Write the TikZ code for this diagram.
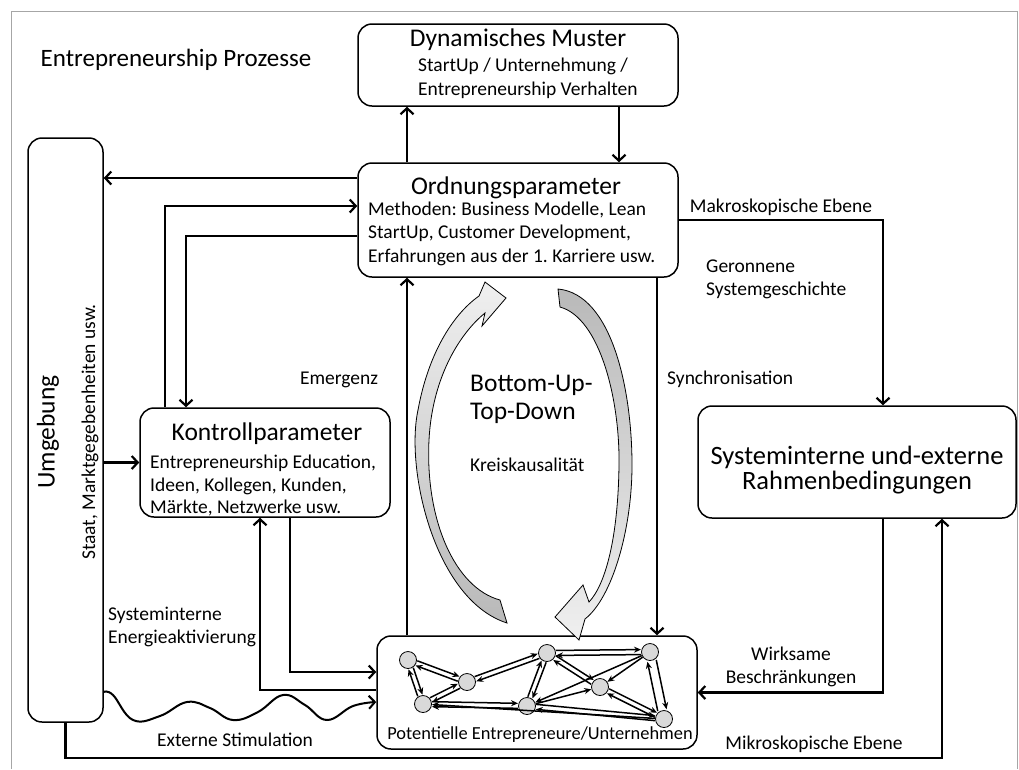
\documentclass[tikz,border=0pt]{standalone}
\usepackage{fontspec}
\setmainfont{Carlito}
\usetikzlibrary{arrows.meta,calc}
\frenchspacing
\newcommand\bigtxt{\fontsize{25.5}{28}\selectfont}
\newcommand\medtxt{\fontsize{19.5}{23.5}\selectfont}
\newcommand\smtxt{\fontsize{19.5}{23}\selectfont}
\newcommand\twoway[3][2.5pt]{%
  \draw[link] ($(#2)!#1!90:(#3)$) -- ($(#3)!#1!-90:(#2)$);
  \draw[link] ($(#3)!#1!90:(#2)$) -- ($(#2)!#1!-90:(#3)$);}
\begin{document}
\begin{tikzpicture}[x=1pt,y=-1pt,
  box/.style={draw,rounded corners=14pt,line width=1.5pt},
  arr/.style={-{Straight Barb[length=6pt,width=13pt]},line width=2.2pt},
  link/.style={-{Stealth[length=7pt,width=6pt]},line width=1.5pt,shorten <=9pt,shorten >=9pt},
  agent/.style={circle,draw,fill=gray!30,minimum size=17pt,inner sep=0pt,line width=0.8pt},
  txt/.style={inner sep=0pt}]
\useasboundingbox (0,0) rectangle (1019,769);
\draw[gray!70,line width=1pt] (11,769) -- (11,11) -- (1017,11) -- (1017,769);

\node[txt,font=\fontsize{25}{28}\selectfont] (title) at (176,60) {Entrepreneurship Prozesse};

\node[box,minimum width=320pt,minimum height=82pt] (dyn) at (518,65) {};
\node[txt,font=\bigtxt] (dynhead) at (518,40) {Dynamisches Muster};
\node[txt,anchor=west,align=left,font=\medtxt] (dyntext) at (418,78.5) {StartUp / Unternehmung /\\ Entrepreneurship Verhalten};

\node[box,minimum width=320pt,minimum height=114pt] (ord) at (518,220) {};
\node[txt,font=\bigtxt] (ordhead) at (516,188) {Ordnungsparameter};
\node[txt,anchor=west,align=left,font=\medtxt] (ordtext) at (368,233.5) {Methoden: Business Modelle, Lean\\ StartUp, Customer Development,\\ Erfahrungen aus der 1. Karriere usw.};

\node[box,minimum width=75pt,minimum height=584pt] (umg) at (65.5,430) {};
\node[txt,rotate=90,font=\bigtxt] (umghead) at (48,432) {Umgebung};
\node[txt,rotate=90,font=\medtxt] (umgtext) at (90,432) {Staat, Marktgegebenheiten usw.};

\node[box,minimum width=250pt,minimum height=109pt] (kon) at (265,462.5) {};
\node[txt,font=\bigtxt] (konhead) at (267,434) {Kontrollparameter};
\node[txt,anchor=west,align=left,font=\fontsize{19.5}{22.5}\selectfont] (kontext) at (150,485.5) {Entrepreneurship Education,\\ Ideen, Kollegen, Kunden,\\ Märkte, Netzwerke usw.};

\node[box,minimum width=318pt,minimum height=112pt] (rah) at (857,462) {};
\node[txt,align=center,font=\fontsize{26.5}{25}\selectfont] (rahtext) at (857,470) {Systeminterne und-externe\\ Rahmenbedingungen};

\node[box,minimum width=320pt,minimum height=113pt] (net) at (537,692.5) {};
\node[txt,font=\fontsize{18.4}{22}\selectfont] (nettext) at (540,735) {Potentielle Entrepreneure/Unternehmen};

\node[txt,anchor=west,align=left,font=\bigtxt] (butd) at (470,399) {Bottom-Up-\\ Top-Down};
\node[txt,anchor=west,font=\smtxt] (kreis) at (470,465) {Kreiskausalität};

\node[txt,font=\smtxt] (emerg) at (339,380) {Emergenz};
\node[txt,font=\smtxt] (makro) at (781,207) {Makroskopische Ebene};
\node[txt,anchor=west,align=left,font=\smtxt] (geronn) at (706,279.5) {Geronnene\\ Systemgeschichte};
\node[txt,anchor=west,font=\smtxt] (sync) at (667,379) {Synchronisation};
\node[txt,anchor=west,align=left,font=\smtxt] (energie) at (108,626.5) {Systeminterne\\ Energieaktivierung};
\node[txt,font=\smtxt] (extern) at (235,740) {Externe Stimulation};
\node[txt,align=center,font=\smtxt] (wirk) at (791,666.5) {Wirksame\\ Beschränkungen};
\node[txt,font=\smtxt] (mikro) at (814,744) {Mikroskopische Ebene};

\draw[arr] ([xshift=-111pt]ord.north) -- ([xshift=-111pt]dyn.south);
\draw[arr] ([xshift=101pt]dyn.south) -- ([xshift=101pt]ord.north);
\draw[arr] ([yshift=42pt]ord.west) -- ([yshift=42pt]ord.west -| umg.east);
\draw[arr] ([xshift=-100pt]kon.north) |- ([yshift=14pt]ord.west);
\draw[arr] ([yshift=-16pt]ord.west) -| ([xshift=-79pt]kon.north);
\draw[arr] (kon.west -| umg.east) -- (kon.west);
\draw[arr] ([xshift=-130pt]net.north) -- ([xshift=-111pt]ord.south);
\draw[arr] ([xshift=139pt]ord.south) -- ([xshift=120pt]net.north);
\draw[arr] (ord.east) -| ([xshift=26pt]rah.north);
\draw[arr] ([xshift=26pt]rah.south) |- (net.east);
\coordinate (bot) at (0,758);
\draw[arr] (umg.south) -- (umg.south |- bot) -| ([xshift=85pt]rah.south);
\draw[arr] ([yshift=2.5pt]net.west) -| ([xshift=-5pt]kon.south);
\draw[arr] ([xshift=25pt]kon.south) |- ([yshift=20.5pt]net.west);
\coordinate (wv0) at ([yshift=-262pt]umg.east);
\coordinate (wv1) at ([yshift=-9.5pt]net.west);
\draw[arr,line width=2pt] plot[smooth,tension=0.7] coordinates {(wv0) (113,695) (133,720) (160,716) (187,702) (210,708) (233,720) (258,712) (283,695) (305,705) (327,720) (353,706) (wv1)};

\draw[line width=0.8pt,top color=gray!12,bottom color=gray!55]
  (507,623) .. controls (435,600) and (405,470) .. (418,410)
  .. controls (428,355) and (452,315) .. (479,296)
  -- (485,282) -- (506,298) -- (482,326) -- (485,313)
  .. controls (458,335) and (432,380) .. (429,440)
  .. controls (425,520) and (455,588) .. (500,600) -- cycle;
\draw[line width=0.8pt,top color=gray!55,bottom color=gray!12]
  (558,289) -- (560,307)
  .. controls (600,318) and (620,400) .. (619,465)
  .. controls (618,540) and (605,585) .. (589,602)
  -- (583,585) -- (555,617) -- (579,640) -- (585,619)
  .. controls (612,598) and (632,530) .. (632,465)
  .. controls (632,390) and (612,294) .. (558,289) -- cycle;

\node[agent] (n1) at (408,660) {};
\node[agent] (n2) at (467,682) {};
\node[agent] (n3) at (423,704) {};
\node[agent] (n4) at (527,706) {};
\node[agent] (n5) at (547,653) {};
\node[agent] (n6) at (650,652) {};
\node[agent] (n7) at (600,687) {};
\node[agent] (n8) at (664,719) {};
\twoway{n1}{n2}
\twoway{n1}{n3}
\twoway{n3}{n2}
\twoway{n2}{n5}
\twoway{n3}{n4}
\twoway{n5}{n6}
\twoway{n5}{n4}
\twoway{n5}{n7}
\twoway{n7}{n8}
\twoway{n4}{n8}
\twoway[4.5pt]{n6}{n8}
\draw[link] (n8.center) -- (n3.center);
\draw[link] (n6.center) -- (n4.center);
\draw[link] (n4.center) -- (n7.center);
\draw[link] (n6.center) -- (n7.center);
\end{tikzpicture}
\end{document}
